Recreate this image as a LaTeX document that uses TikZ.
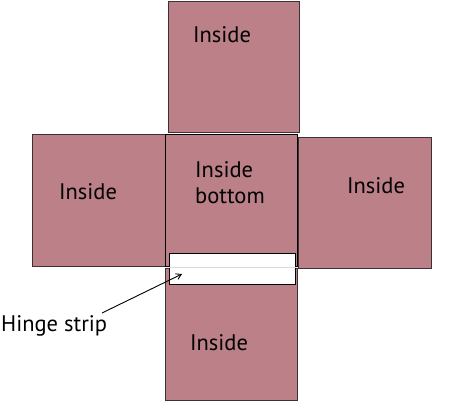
\documentclass[tikz,border=0pt]{standalone}
\usepackage{fontspec}
\setmainfont{PT Sans}
\usetikzlibrary{arrows.meta}
\definecolor{mauve}{RGB}{188,128,137}
\definecolor{edge}{RGB}{60,50,52}
\tikzset{
  panel/.style={draw=edge, line width=1pt, fill=mauve},
  lbl/.style={font=\fontsize{22.5}{26}\selectfont, text=black, inner sep=0pt},
}
\begin{document}
\begin{tikzpicture}[x=1pt,y=-1pt]
\useasboundingbox (0,0) rectangle (474,420);
\fill[white] (0,0) rectangle (474,420);
\draw[panel] (168,2) rectangle (299,132);
\draw[panel] (32,134) rectangle (165,266);
\draw[panel] (298,137) rectangle (431,268);
\draw[panel] (165,268) rectangle (297,400);
\draw[panel, draw=black] (165,134) rectangle (297.5,266);
\node[draw=black, line width=1pt, fill=white, minimum width=126pt, minimum height=31pt, inner sep=0pt] (strip) at (232,268.5) {};
\draw[gray!30, line width=0.8pt] (strip.west |- 0,267) -- (strip.east |- 0,267);
\node[lbl] (top) at (222,35) {Inside};
\node[lbl] (left) at (88,192) {Inside};
\node[lbl] (right) at (376,186) {Inside};
\node[lbl, align=left, anchor=west] (center) at (195,183) {Inside\\bottom};
\node[lbl] (bottom) at (219,343) {Inside};
\node[lbl, anchor=west] (hinge) at (1,326) {Hinge strip};
\coordinate (start) at (102,313);
\coordinate (tip) at (182,274);
\draw[-{Straight Barb[length=5pt,width=6pt]}, line width=0.9pt] (start) -- (tip);
\end{tikzpicture}
\end{document}
